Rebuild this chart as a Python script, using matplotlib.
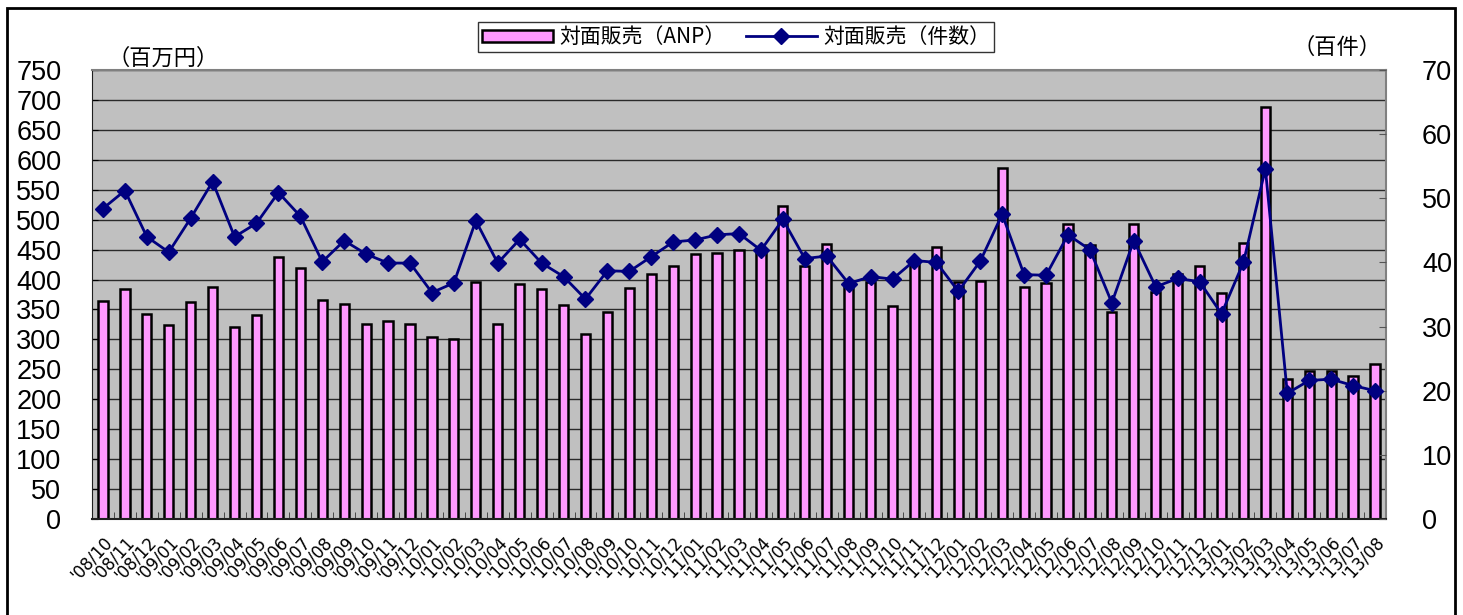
import matplotlib
matplotlib.use("Agg")
import matplotlib.pyplot as plt
from matplotlib.patches import Rectangle
import numpy as np

months = ["'08/10", "'08/11", "'08/12",
          "'09/01", "'09/02", "'09/03", "'09/04", "'09/05", "'09/06", "'09/07", "'09/08", "'09/09", "'09/10", "'09/11", "'09/12",
          "'10/01", "'10/02", "'10/03", "'10/04", "'10/05", "'10/06", "'10/07", "'10/08", "'10/09", "'10/10", "'10/11", "'10/12",
          "'11/01", "'11/02", "'11/03", "'11/04", "'11/05", "'11/06", "'11/07", "'11/08", "'11/09", "'11/10", "'11/11", "'11/12",
          "'12/01", "'12/02", "'12/03", "'12/04", "'12/05", "'12/06", "'12/07", "'12/08", "'12/09", "'12/10", "'12/11", "'12/12",
          "'13/01", "'13/02", "'13/03", "'13/04", "'13/05", "'13/06", "'13/07", "'13/08"]

anp = [364, 385, 342, 324, 362, 387, 321, 341, 437, 419, 366, 359, 326, 331, 325,
       304, 300, 396, 326, 392, 384, 358, 309, 345, 386, 410, 423,
       443, 445, 449, 449, 523, 423, 459, 393, 396, 356, 427, 454,
       396, 398, 586, 387, 395, 492, 457, 345, 492, 380, 409, 423,
       377, 461, 688, 234, 247, 247, 239, 259]

counts = [48.4, 51.2, 44.0, 41.6, 46.9, 52.6, 44.0, 46.1, 50.9, 47.2, 40.1, 43.4, 41.3, 39.9, 39.9,
          35.3, 36.8, 46.5, 39.9, 43.6, 39.9, 37.8, 34.3, 38.7, 38.6, 40.9, 43.2,
          43.5, 44.3, 44.5, 41.9, 46.7, 40.6, 41.0, 36.7, 37.8, 37.4, 40.3, 40.0,
          35.5, 40.2, 47.5, 38.1, 38.0, 44.3, 42.0, 33.7, 43.4, 36.2, 37.5, 37.0,
          32.0, 40.0, 54.6, 19.6, 21.6, 21.8, 20.8, 20.0]

left_ticks = list(range(0, 751, 50))
right_ticks = list(range(0, 71, 10))

JP = "Noto Sans CJK JP"
NUM = "Liberation Sans"

fig = plt.figure(figsize=(14.63, 6.15), dpi=100)
fig.patch.set_facecolor("white")
# outer border
fig.add_artist(Rectangle((7/1463, -0.01), (1455-7)/1463, 1 - 8/615 + 0.01,
                         transform=fig.transFigure, fill=False, edgecolor="black", lw=2))

ax = fig.add_axes([92/1463, 1-519/615, (1386-92)/1463, (519-70)/615])
ax.set_facecolor("#C0C0C0")
x = np.arange(len(months))
ax.set_xlim(-0.5, len(months)-0.5)
ax.set_ylim(0, 750)
ax.set_yticks(left_ticks)
ax.set_yticklabels([str(t) for t in left_ticks], fontsize=19.5, family=NUM)
ax.yaxis.grid(True, color="#2a2a2a", lw=1)
ax.set_axisbelow(True)
ax.tick_params(axis="y", length=4, direction="in", pad=22)

bars = ax.bar(x, anp, width=0.42, color="#FF99FF", edgecolor="black", lw=1.8, zorder=2,
              label="対面販売（ANP）")

ax.set_xticks(x)
ax.set_xticklabels(months, rotation=47, ha="right", va="top", rotation_mode="anchor",
                   fontsize=12, family="DejaVu Sans")
ax.tick_params(axis="x", length=0, pad=10)
ax.set_xticks(np.arange(-0.5, len(months), 1), minor=True)
ax.tick_params(axis="x", which="minor", length=5, direction="in", color="#333333")

for s in ["top", "right"]:
    ax.spines[s].set_color("#808080")
    ax.spines[s].set_linewidth(1.5)
ax.spines["left"].set_color("#202020")
ax.spines["bottom"].set_color("#202020")
ax.spines["bottom"].set_linewidth(1.5)

ax2 = ax.twinx()
ax2.set_ylim(0, 70)
ax2.set_yticks(right_ticks)
ax2.set_yticklabels([str(t) for t in right_ticks], fontsize=19.5, family=NUM)
ax2.tick_params(axis="y", length=5, direction="in", pad=26, color="#555555")
for s in ax2.spines.values():
    s.set_visible(False)
line, = ax2.plot(x, counts, color="#000080", lw=2, marker="D", markersize=8,
                 markerfacecolor="#000080", markeredgecolor="#000080", zorder=3,
                 label="対面販売（件数）")

fig.text(108/1463, 1-58/615, "（百万円）", fontsize=16, family=JP, ha="left", va="center")
fig.text(1292/1463, 1-47/615, "（百件）", fontsize=16, family=JP, ha="left", va="center")

leg = fig.legend([bars, line], ["対面販売（ANP）", "対面販売（件数）"],
                 loc="center", bbox_to_anchor=(736/1463, 1-37/615), ncol=2,
                 prop={"family": JP, "size": 15}, frameon=True, fancybox=False,
                 edgecolor="black", handlelength=3.4, handleheight=0.5,
                 borderpad=0.2, columnspacing=1.0, handletextpad=0.3)
leg.get_frame().set_linewidth(1)

fig.savefig("out.png", dpi=100)
